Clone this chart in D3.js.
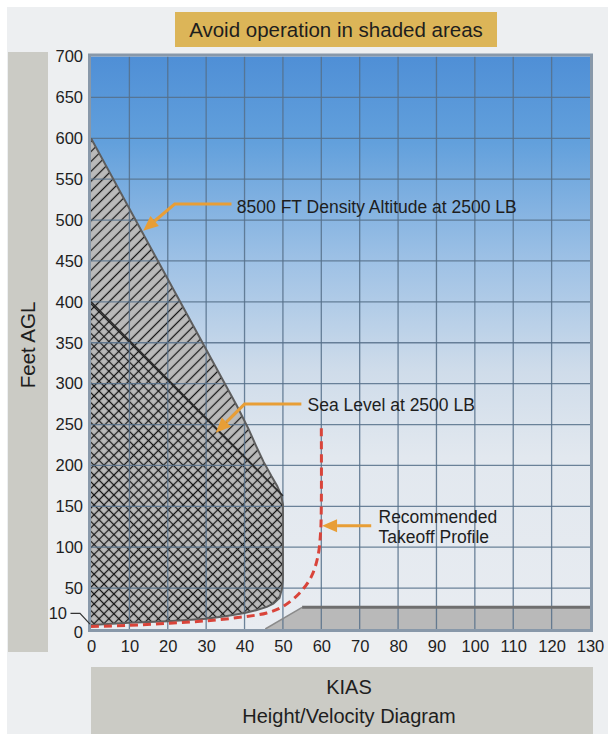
<!DOCTYPE html>
<html><head><meta charset="utf-8">
<script src="https://cdn.jsdelivr.net/npm/d3@7"></script>
<style>
html,body{margin:0;padding:0;background:#fff;}
svg{display:block;font-family:"Liberation Sans",Arial,Helvetica,sans-serif;}
</style>
</head><body>
<svg id="chart" width="608" height="734"></svg>
<script>
// ---------- data ----------
const xTicks = [0,10,20,30,40,50,60,70,80,90,100,110,120,130];
const yTicks = [0,10,50,100,150,200,250,300,350,400,450,500,550,600,650,700];
const xGrid = [10,20,30,40,50,60,70,80,90,100,110,120];
const yGrid = [50,100,150,200,250,300,350,400,450,500,550,600,650];

// 8500 FT density altitude boundary (upper edge), KIAS vs feet AGL
const densityAltitudeUpper = [[0,600],[38,273],[41,245],[43,224],[45,204],[47,187],[48.5,175],[49.5,164],[50,152]];
// Sea level boundary (upper edge)
const seaLevelUpper = [[0,400],[50,163]];
// shared right/lower edge of shaded areas (from right going left)
const shadedLower = [[50,60],[49.8,50],[49.1,38],[47.5,31],[45.8,27],[43,23],[40,19.5],[35,15.5],[30,12.5],[20,9.5],[10,7.5],[0,5]];
// low-altitude high-speed avoid area
const groundArea = [[45.4,0],[55,26.5],[130,26.5],[130,0]];
// recommended takeoff profile
const takeoffProfile = [[0,3],[10,4.5],[20,7],[30,10],[40,15],[45.8,19.6],[50,27.6],[54.3,43.8],[57.4,64],[59.1,88.5],[59.8,117],[60,150],[60,250]];

const titleText = "Avoid operation in shaded areas";
const yTitle = "Feet AGL";
const xTitle = "KIAS";
const caption = "Height/Velocity Diagram";

// annotations: text lines, anchor of text, arrow path (data coords)
const annotations = [
  {lines:["8500 FT Density Altitude at 2500 LB"], text:[38.0,516], arrow:[[36.6,519.6],[21.8,519.6],[13.6,487]]},
  {lines:["Sea Level at 2500 LB"], text:[56.4,274], arrow:[[54.8,275],[40,275],[32.5,240]]},
  {lines:["Recommended","Takeoff Profile"], text:[74.9,137.5], arrow:[[73,126.3],[60.2,126.3]]}
];

// ---------- drawing ----------
const svg = d3.select("#chart");
const x = d3.scaleLinear().domain([0,130]).range([91,590]);
const y = d3.scaleLinear().domain([0,700]).range([629,56.5]);

// page background
svg.append("rect").attr("x",7).attr("y",7).attr("width",601).attr("height",727).attr("fill","#edeff1");

// title box
svg.append("rect").attr("x",175).attr("y",12).attr("width",322).attr("height",35).attr("fill","#dcb558");
svg.append("text").attr("x",336).attr("y",30).attr("dy","0.35em").attr("text-anchor","middle")
  .attr("font-size",20.5).attr("fill","#1e1e1e").text(titleText);

// left band
svg.append("rect").attr("x",8).attr("y",52).attr("width",40).attr("height",600).attr("fill","#cbcbc5");
svg.append("text").attr("transform","translate(28,345) rotate(-90)").attr("dy","0.35em")
  .attr("text-anchor","middle").attr("font-size",20.5).attr("fill","#1e1e1e").text(yTitle);

// bottom band
svg.append("rect").attr("x",91).attr("y",667).attr("width",502).attr("height",67).attr("fill","#cbcbc5");
svg.append("text").attr("x",349).attr("y",687).attr("dy","0.35em").attr("text-anchor","middle")
  .attr("font-size",20).attr("fill","#1e1e1e").text(xTitle);
svg.append("text").attr("x",349).attr("y",716).attr("dy","0.35em").attr("text-anchor","middle")
  .attr("font-size",20).attr("fill","#1e1e1e").text(caption);

// defs
const defs = svg.append("defs");
const grad = defs.append("linearGradient").attr("id","sky").attr("gradientUnits","userSpaceOnUse")
  .attr("x1",0).attr("x2",0).attr("y1",y(700)).attr("y2",y(0));
[[0,"#4f8fd6"],[0.15,"#62a0dc"],[0.35,"#9cc0e5"],[0.55,"#cfdcea"],[0.7,"#e2e8ef"],[1,"#e8ecf1"]]
  .forEach(([o,c])=>grad.append("stop").attr("offset",o).attr("stop-color",c));

const P = 7;
const single = defs.append("pattern").attr("id","hatch1").attr("patternUnits","userSpaceOnUse")
  .attr("width",P).attr("height",P).attr("patternTransform","rotate(45)");
single.append("rect").attr("width",P).attr("height",P).attr("fill","#bababa");
single.append("line").attr("x1",P/2).attr("y1",0).attr("x2",P/2).attr("y2",P).attr("stroke","#151515").attr("stroke-width",1.25);

const cross = defs.append("pattern").attr("id","hatch2").attr("patternUnits","userSpaceOnUse")
  .attr("width",P).attr("height",P).attr("patternTransform","rotate(45)");
cross.append("rect").attr("width",P).attr("height",P).attr("fill","#bababa");
cross.append("line").attr("x1",P/2).attr("y1",0).attr("x2",P/2).attr("y2",P).attr("stroke","#151515").attr("stroke-width",1.25);
cross.append("line").attr("x1",0).attr("y1",P/2).attr("x2",P).attr("y2",P/2).attr("stroke","#151515").attr("stroke-width",1.25);

defs.append("clipPath").attr("id","plotClip").append("rect")
  .attr("x",x(0)).attr("y",y(700)).attr("width",x(130)-x(0)).attr("height",y(0)-y(700));

// plot background
svg.append("rect").attr("x",x(0)).attr("y",y(700)).attr("width",x(130)-x(0)).attr("height",y(0)-y(700))
  .attr("fill","url(#sky)");

const plot = svg.append("g").attr("clip-path","url(#plotClip)");
const line = d3.line().x(d=>x(d[0])).y(d=>y(d[1]));

const daPoly = densityAltitudeUpper.concat(shadedLower);
const slPoly = seaLevelUpper.concat(shadedLower);

plot.append("path").attr("d",line(daPoly)+"Z").attr("fill","url(#hatch1)");
plot.append("path").attr("d",line(slPoly)+"Z").attr("fill","url(#hatch2)");
plot.append("path").attr("d",line(groundArea)+"Z").attr("fill","#b9b9b9");

// grid
plot.selectAll(".vg").data(xGrid).enter().append("line")
  .attr("x1",d=>x(d)).attr("x2",d=>x(d)).attr("y1",y(700)).attr("y2",y(0))
  .attr("stroke","#56708a").attr("stroke-width",1.3).attr("opacity",0.85);
plot.selectAll(".hg").data(yGrid).enter().append("line")
  .attr("y1",d=>y(d)).attr("y2",d=>y(d)).attr("x1",x(0)).attr("x2",x(130))
  .attr("stroke","#56708a").attr("stroke-width",1.3).attr("opacity",0.85);

// boundaries
plot.append("path").attr("d",line(densityAltitudeUpper.concat(shadedLower))).attr("fill","none")
  .attr("stroke","#5e5e5e").attr("stroke-width",2);
plot.append("path").attr("d",line(seaLevelUpper)).attr("fill","none")
  .attr("stroke","#2a2a2a").attr("stroke-width",1.6);
plot.append("path").attr("d",line(groundArea.slice(0,2))).attr("fill","none")
  .attr("stroke","#8a8a8a").attr("stroke-width",1.5);
plot.append("path").attr("d",line(groundArea.slice(1,3))).attr("fill","none")
  .attr("stroke","#6e6e6e").attr("stroke-width",3);

// takeoff profile
plot.append("path").attr("d",d3.line().x(d=>x(d[0])).y(d=>y(d[1])).curve(d3.curveCatmullRom.alpha(0.5))(takeoffProfile))
  .attr("fill","none").attr("stroke","#d9443a").attr("stroke-width",3).attr("stroke-dasharray","8,5");

// frame
svg.append("rect").attr("x",x(0)-1.5).attr("y",y(700)-1.5).attr("width",x(130)-x(0)+3).attr("height",y(0)-y(700)+3)
  .attr("fill","none").attr("stroke","#8898a9").attr("stroke-width",3);

// axes
const yAxis = svg.append("g").attr("transform",`translate(${x(0)},0)`)
  .call(d3.axisLeft(y).tickValues(yTicks).tickSize(0).tickPadding(8).tickFormat(d3.format("d")));
yAxis.select(".domain").remove();
yAxis.selectAll("text").attr("font-size",16.5).attr("fill","#1e1e1e").attr("font-family",null);
yAxis.selectAll(".tick").filter(d=>d===0).select("text").attr("dy","0.5em");
yAxis.selectAll(".tick").filter(d=>d===10).select("text").attr("x",-24).attr("dy","-0.15em");
// leader for the 10 label
svg.append("path").attr("d",d3.line()([[70.5,y(10)-7.5],[80,y(10)-7.5],[x(0)-1,y(6)]]))
  .attr("fill","none").attr("stroke","#333").attr("stroke-width",1.2);

const xAxis = svg.append("g").attr("transform",`translate(0,${y(0)})`)
  .call(d3.axisBottom(x).tickValues(xTicks).tickSize(0).tickFormat(d3.format("d")));
xAxis.select(".domain").remove();
xAxis.selectAll("text").attr("y",17).attr("dy","0.35em").attr("font-size",16.5).attr("fill","#1e1e1e").attr("font-family",null);

// annotations
const orange = "#e89e36";
annotations.forEach(a=>{
  const pts = a.arrow.map(p=>[x(p[0]),y(p[1])]);
  const tip = pts[pts.length-1], prev = pts[pts.length-2];
  const ang = Math.atan2(tip[1]-prev[1], tip[0]-prev[0]);
  const L = 15, W = 6.5;
  const base = [tip[0]-L*Math.cos(ang), tip[1]-L*Math.sin(ang)];
  const shaft = pts.slice(0,-1).concat([base]);
  svg.append("path").attr("d",d3.line()(shaft)).attr("fill","none").attr("stroke",orange).attr("stroke-width",3);
  const left = [base[0]+W*Math.sin(ang), base[1]-W*Math.cos(ang)];
  const right = [base[0]-W*Math.sin(ang), base[1]+W*Math.cos(ang)];
  svg.append("path").attr("d",d3.line()([tip,left,right])+"Z").attr("fill",orange);
  a.lines.forEach((l,i)=>{
    svg.append("text").attr("x",x(a.text[0])).attr("y",y(a.text[1])+i*20).attr("dy","0.35em")
      .attr("font-size",17.5).attr("fill","#1e1e1e").text(l);
  });
});
</script>
</body></html>
